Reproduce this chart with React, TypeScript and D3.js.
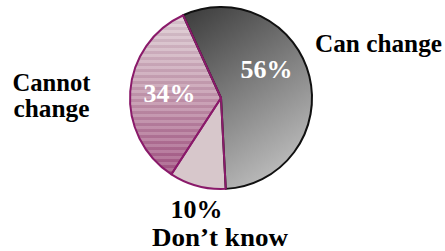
import React from "react";
import * as d3 from "d3";

// answers, clockwise from the upper left boundary
const categories = ["Can change", "Don\u2019t know", "Cannot change"];
const values = [56, 10, 34];
const labelLines = [["Can change"], ["Don\u2019t know"], ["Cannot", "change"]];

const width = 445;
const height = 251;
const cx = 221;
const cy = 98;
const radius = 91;
const startDeg = -24.6;

// where each label goes: pct inside or out, name outside (layout only)
const pctPos = [
  { x: 266.5, y: 78, inside: true },
  { x: 196.5, y: 218, inside: false },
  { x: 169.5, y: 102, inside: true },
];
const namePos = [
  { x: 378.5, y: 52, w: [127], size: 26 },
  { x: 220, y: 245.5, w: [136], size: 24.5 },
  { x: 51.5, y: 90.5, w: [78, 76], size: 26 },
];

const fills = ["url(#grayGrad)", "#d7c7cb", "url(#stripes)"];
const strokes = ["#111", "#8a1a6a", "#8a1a6a"];

export default function App() {
  const rad = (startDeg * Math.PI) / 180;
  const pie = d3
    .pie<number>()
    .sort(null)
    .startAngle(rad)
    .endAngle(rad + 2 * Math.PI);
  const arcs = pie(values);
  const arc = d3.arc<d3.PieArcDatum<number>>().innerRadius(0).outerRadius(radius);
  const font = "'Liberation Serif', 'Times New Roman', serif";

  return (
    <svg
      width={width}
      height={height}
      style={{ position: "absolute", left: 0, top: 0, background: "#fff" }}
    >
      <defs>
        {/* coords relative to the pie centre, since the paths are translated */}
        <linearGradient
          id="grayGrad"
          gradientUnits="userSpaceOnUse"
          x1={190 - cx}
          y1={10 - cy}
          x2={305 - cx}
          y2={180 - cy}
        >
          <stop offset="0" stopColor="#3e3e3e" />
          <stop offset="1" stopColor="#c8c8c8" />
        </linearGradient>
        <linearGradient id="pinkGrad" gradientUnits="userSpaceOnUse" x1={0} y1={15} x2={0} y2={175}>
          <stop offset="0" stopColor="#ddcdd3" />
          <stop offset="0.5" stopColor="#c499ae" />
          <stop offset="1" stopColor="#a35583" />
        </linearGradient>
        <pattern id="stripeLines" patternUnits="userSpaceOnUse" width={8} height={6}>
          <rect x={0} y={0} width={8} height={3} fill="#fff" fillOpacity={0.14} />
          <rect x={0} y={3} width={8} height={3} fill="#5a1040" fillOpacity={0.06} />
        </pattern>
        <pattern id="stripes" patternUnits="userSpaceOnUse" x={-cx} y={-cy} width={width} height={height}>
          <rect width={width} height={height} fill="url(#pinkGrad)" />
          <rect width={width} height={height} fill="url(#stripeLines)" />
        </pattern>
      </defs>
      <g transform={`translate(${cx},${cy})`}>
        {arcs.map((a, i) => (
          <path key={categories[i]} d={arc(a) || ""} fill={fills[i]} />
        ))}
        {arcs.map((a, i) => (
          <path
            key={"s" + categories[i]}
            d={arc(a) || ""}
            fill="none"
            stroke={strokes[i]}
            strokeWidth={2}
            strokeLinejoin="round"
          />
        ))}
      </g>
      {values.map((v, i) => (
        <text
          key={"p" + i}
          x={pctPos[i].x}
          y={pctPos[i].y}
          textAnchor="middle"
          fontFamily={font}
          fontWeight="bold"
          fontSize={26}
          fill={pctPos[i].inside ? "#fff" : "#000"}
        >
          {v}%
        </text>
      ))}
      {labelLines.map((lines, i) =>
        lines.map((line, j) => (
          <text
            key={"n" + i + j}
            x={namePos[i].x}
            y={namePos[i].y + j * 26.2}
            textAnchor="middle"
            fontFamily={font}
            fontWeight="bold"
            fontSize={namePos[i].size}
            textLength={namePos[i].w[j]}
            lengthAdjust="spacingAndGlyphs"
            fill="#000"
          >
            {line}
          </text>
        ))
      )}
    </svg>
  );
}
